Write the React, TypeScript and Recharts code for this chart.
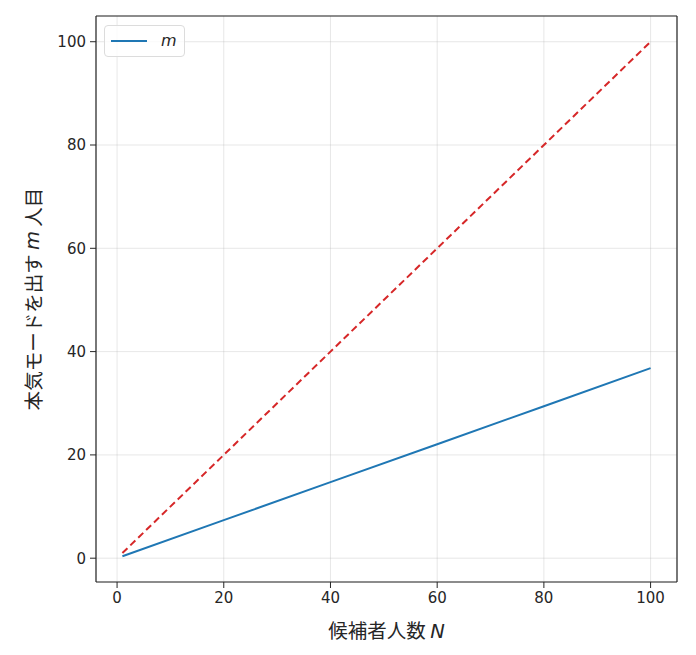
import { CartesianGrid, Line, LineChart, ReferenceLine, XAxis, YAxis } from "recharts";

// candidate count N and the values
const candidates = [1, 20, 40, 60, 80, 100];
const seriousFrom = [0.37, 7.36, 14.72, 22.07, 29.43, 36.79];
const diagonal = [1, 20, 40, 60, 80, 100];
const xTicks = [0, 20, 40, 60, 80, 100];
const yTicks = [0, 20, 40, 60, 80, 100];

const data = candidates.map((n, i) => ({ n, m: seriousFrom[i], diag: diagonal[i] }));

const X_DOMAIN: [number, number] = [-3.95, 104.95];
const Y_DOMAIN: [number, number] = [-4.61, 104.98];
const INK = "#262626";
const TICK_FONT = "'DejaVu Sans', sans-serif";
const CJK_FONT = "'Noto Sans CJK JP', 'DejaVu Sans', sans-serif";

function XLabel({ viewBox }: any) {
  const cx = viewBox.x + viewBox.width / 2;
  return (
    <text x={cx} y={638} textAnchor="middle" fill={INK} fontSize={19.5} fontFamily={CJK_FONT}>
      候補者人数 <tspan fontStyle="italic" fontFamily={TICK_FONT}>N</tspan>
    </text>
  );
}

function YLabel({ viewBox }: any) {
  const cy = viewBox.y + viewBox.height / 2;
  const cx = 32;
  return (
    <text
      x={cx}
      y={cy}
      textAnchor="middle"
      dominantBaseline="central"
      transform={`rotate(-90 ${cx} ${cy})`}
      fill={INK}
      fontSize={19.5}
      fontFamily={CJK_FONT}
    >
      本気モードを出す <tspan fontStyle="italic" fontFamily={TICK_FONT}>m</tspan> 人目
    </text>
  );
}

function LegendBox() {
  return (
    <div
      style={{
        position: "absolute",
        left: 104,
        top: 25,
        width: 81,
        height: 32,
        border: "1px solid #dcdcdc",
        borderRadius: 4,
        background: "rgba(255,255,255,0.8)",
        display: "flex",
        alignItems: "center",
        boxSizing: "border-box",
      }}
    >
      <svg width={56} height={10}>
        <line x1={6} y1={5} x2={42} y2={5} stroke="#1f77b4" strokeWidth={2} />
      </svg>
      <span style={{ fontFamily: TICK_FONT, fontStyle: "italic", fontSize: 16, color: INK, lineHeight: 1 }}>m</span>
    </div>
  );
}

export default function App() {
  return (
    <div style={{ position: "absolute", left: 0, top: 0, width: 696, height: 655, background: "#fff" }}>
      <LineChart width={696} height={655} data={data} margin={{ top: 16, right: 19, bottom: 33, left: 36 }}>
        <CartesianGrid stroke="#b0b0b0" strokeOpacity={0.3} strokeWidth={1} vertical horizontal />
        <XAxis
          type="number"
          dataKey="n"
          domain={X_DOMAIN}
          ticks={xTicks}
          allowDataOverflow
          height={40}
          tickSize={6}
          tickMargin={4}
          stroke={INK}
          axisLine={{ stroke: INK, strokeWidth: 1.2 }}
          tickLine={{ stroke: INK }}
          tick={{ fill: INK, fontSize: 15, fontFamily: TICK_FONT }}
          label={<XLabel />}
        />
        <YAxis
          type="number"
          domain={Y_DOMAIN}
          ticks={yTicks}
          allowDataOverflow
          width={60}
          tickSize={6}
          tickMargin={4}
          stroke={INK}
          axisLine={{ stroke: INK, strokeWidth: 1.2 }}
          tickLine={{ stroke: INK }}
          tick={{ fill: INK, fontSize: 15, fontFamily: TICK_FONT }}
          label={<YLabel />}
        />
        <ReferenceLine y={Y_DOMAIN[1]} stroke={INK} strokeWidth={1.2} />
        <ReferenceLine x={X_DOMAIN[1]} stroke={INK} strokeWidth={1.2} />
        <Line
          type="linear"
          dataKey="diag"
          stroke="#d62728"
          strokeWidth={2}
          strokeDasharray="7 4"
          dot={false}
          isAnimationActive={false}
        />
        <Line
          type="linear"
          dataKey="m"
          stroke="#1f77b4"
          strokeWidth={2}
          dot={false}
          isAnimationActive={false}
        />
      </LineChart>
      <LegendBox />
    </div>
  );
}
